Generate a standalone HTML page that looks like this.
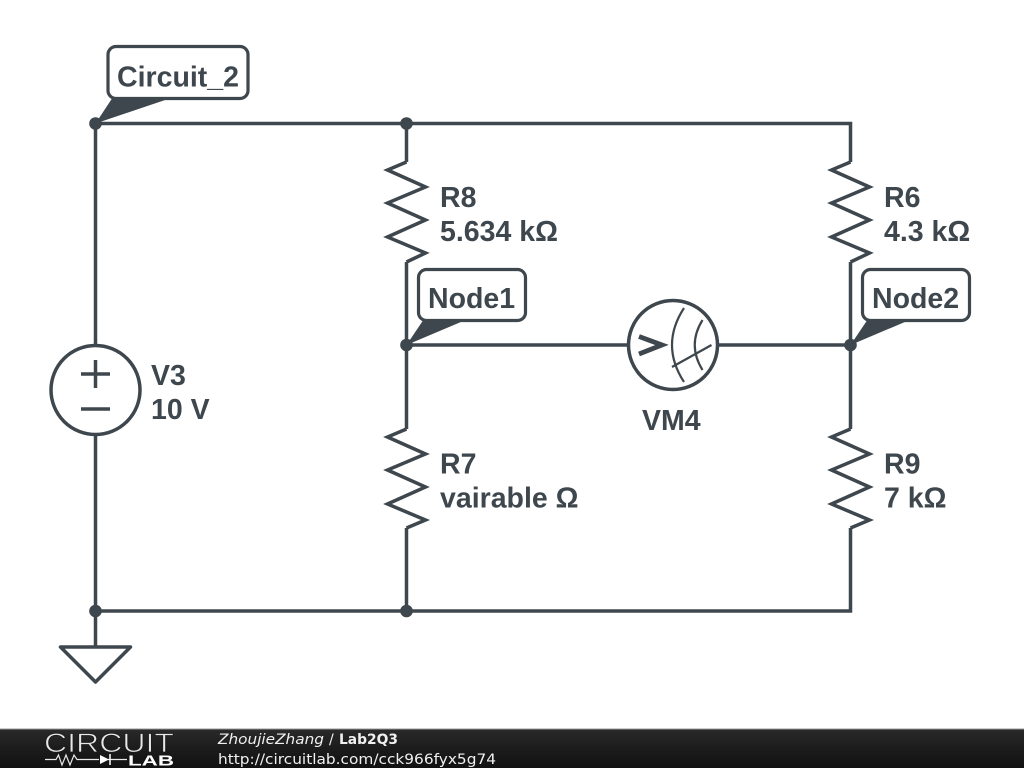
<!DOCTYPE html>
<html lang="en">
<head>
<meta charset="utf-8">
<title>Lab2Q3</title>
<style>
html,body{margin:0;padding:0;background:#fff;width:1024px;height:768px;overflow:hidden}
svg{display:block}
.w{fill:none;stroke:#3e474d;stroke-width:3.5;stroke-linecap:butt}
.t{font-family:"Liberation Sans",sans-serif;font-weight:700;font-size:28.5px;fill:#3e474d}
.f{font-family:"DejaVu Sans",sans-serif;font-size:14px;fill:#f0f0f0}
</style>
</head>
<body>
<svg width="1024" height="768" viewBox="0 0 1024 768" xmlns="http://www.w3.org/2000/svg">
<defs>
<linearGradient id="g" x1="0" y1="0" x2="0" y2="1">
<stop offset="0" stop-color="#2a2a2a"/><stop offset="0.5" stop-color="#1c1c1c"/><stop offset="1" stop-color="#111"/>
</linearGradient>
</defs>
<rect width="1024" height="768" fill="#fff"/>

<!-- wires -->
<path class="w" d="M95.500 123.500H850.500V162"/>
<path class="w" d="M95.500 123.500V345"/>
<path class="w" d="M95.500 435V646"/>
<path class="w" d="M95.500 611H850.500V528"/>
<path class="w" d="M406.500 123.500V162"/>
<path class="w" d="M406.500 262V429"/>
<path class="w" d="M406.500 528V611"/>
<path class="w" d="M850.500 262V429"/>
<path class="w" d="M406.500 345H628"/>
<path class="w" d="M718 345H850.500"/>

<!-- resistors -->
<path class="w" d="M406.500 162L387.500 170L425.500 187L387.500 203L425.500 220L387.500 237L425.500 253L406.500 262"/>
<path class="w" d="M850.500 162L831.500 170L869.500 187L831.500 203L869.500 220L831.500 237L869.500 253L850.500 262"/>
<path class="w" d="M406.500 429L387.500 437L425.500 454L387.500 470L425.500 487L387.500 504L425.500 520L406.500 528"/>
<path class="w" d="M850.500 429L831.500 437L869.500 454L831.500 470L869.500 487L831.500 504L869.500 520L850.500 528"/>

<!-- source -->
<circle class="w" cx="95.500" cy="390" r="44.500"/>
<path class="w" d="M81 374H110M95.500 360V388M81 409H110"/>

<!-- ground -->
<path class="w" style="stroke-linejoin:round" d="M60.500 647H130.500L95.500 682Z"/>

<!-- voltmeter -->
<circle class="w" cx="673" cy="345" r="44.500"/>
<path d="M639 336.500L662 345L639 354" fill="none" stroke="#3e474d" stroke-width="4.800"/>
<path d="M684 308Q660 345 684 382M702.500 320Q687 345 702.500 370M672 367L711.500 345" fill="none" stroke="#3e474d" stroke-width="2.200"/>

<!-- junction dots -->
<g fill="#3e474d">
<circle cx="95.500" cy="123.500" r="6.300"/>
<circle cx="406.500" cy="123.500" r="6.300"/>
<circle cx="406.500" cy="345" r="6.300"/>
<circle cx="850.500" cy="345" r="6.300"/>
<circle cx="95.500" cy="611" r="6.300"/>
<circle cx="406.500" cy="611" r="6.300"/>
</g>

<!-- node labels -->
<g fill="#3e474d">
<path d="M95.500 123.500L113 97H174Z"/>
<path d="M406.500 345L424 319H468Z"/>
<path d="M850.500 345L868 319H912Z"/>
</g>
<g fill="#fff" stroke="#3e474d" stroke-width="3.200">
<rect x="108" y="46.500" width="140" height="52" rx="8"/>
<rect x="418.500" y="269.500" width="107" height="51" rx="8"/>
<rect x="862.500" y="269.500" width="107" height="51" rx="8"/>
</g>
<text class="t" x="117" y="86.500">Circuit_2</text>
<text class="t" x="428" y="308">Node1</text>
<text class="t" x="872" y="308">Node2</text>

<!-- component labels -->
<text class="t" x="440" y="207">R8</text>
<text class="t" x="440" y="241">5.634 kΩ</text>
<text class="t" x="884" y="207">R6</text>
<text class="t" x="884" y="241">4.3 kΩ</text>
<text class="t" x="440" y="473.500">R7</text>
<text class="t" x="440" y="507.500">vairable Ω</text>
<text class="t" x="884" y="473.500">R9</text>
<text class="t" x="884" y="507.500">7 kΩ</text>
<text class="t" x="151" y="385">V3</text>
<text class="t" x="151" y="419">10 V</text>
<text class="t" x="642" y="430">VM4</text>

<!-- footer -->
<rect x="0" y="729" width="1024" height="39" fill="url(#g)"/>
<rect x="0" y="728.500" width="1024" height="1" fill="#999"/>
<text x="44" y="752" font-family="Liberation Sans, sans-serif" font-size="27" textLength="130" lengthAdjust="spacingAndGlyphs" fill="#e8e8e8" stroke="#1c1c1c" stroke-width="0.8">CIRCUIT</text>
<path d="M45 759.500H56L58.500 755L62 765L66 755L70 765L74 755L77 759.500H99M108 759.500H127" fill="none" stroke="#e8e8e8" stroke-width="1.200"/>
<path d="M100 755L109 759.500L100 764Z" fill="#fff"/>
<path d="M110 754V765" stroke="#fff" stroke-width="1.500"/>
<text x="128" y="765.500" font-family="Liberation Sans, sans-serif" font-weight="700" font-size="15" textLength="46" lengthAdjust="spacingAndGlyphs" fill="#fff">LAB</text>
<text class="f" x="218" y="744" textLength="106" lengthAdjust="spacingAndGlyphs" font-style="italic">ZhoujieZhang</text>
<text class="f" x="329" y="744">/</text>
<text class="f" x="339" y="744" font-weight="700" textLength="59" lengthAdjust="spacingAndGlyphs">Lab2Q3</text>
<text class="f" x="218" y="764" textLength="278" lengthAdjust="spacingAndGlyphs">http://circuitlab.com/cck966fyx5g74</text>
</svg>
</body>
</html>
